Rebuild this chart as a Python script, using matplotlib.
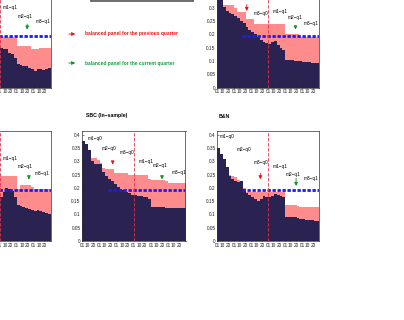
import matplotlib
matplotlib.use("Agg")
import matplotlib.pyplot as plt
from matplotlib.patches import Rectangle
import numpy as np

plt.rcParams['font.family'] = ['Liberation Sans Narrow', 'Liberation Sans', 'DejaVu Sans']

# day index, one value every 5 days over two quarters (6 months of ~30 days)
days = np.arange(0, 180, 5)
tick_days = [0, 9, 19, 30, 39, 49, 60, 69, 79, 90, 99, 109, 120, 129, 139, 150, 159, 169]
tick_labels = ['01', '10', '20'] * 6
y_ticks = [0, 0.05, 0.1, 0.15, 0.2, 0.25, 0.3, 0.35, 0.4]
y_tick_labels = ['0', '0.05', '0.1', '0.15', '0.2', '0.25', '0.3', '0.35', '0.4']
q_labels = ['m1\u2212q0', 'm2\u2212q0', 'm3\u2212q0', 'm1\u2212q1', 'm2\u2212q1', 'm3\u2212q1']

# top left panel (cut off, only the second quarter is in view)
a_dark = [0.360, 0.340, 0.320, 0.300, 0.290, 0.280, 0.270, 0.260, 0.250, 0.240, 0.230, 0.220,
          0.210, 0.200, 0.190, 0.180, 0.170, 0.160, 0.150, 0.145, 0.144, 0.130, 0.125, 0.110,
          0.090, 0.085, 0.082, 0.080, 0.075, 0.070, 0.064, 0.068, 0.069, 0.067, 0.070, 0.073]
a_pink = [0.360, 0.345, 0.330, 0.320, 0.310, 0.300, 0.290, 0.280, 0.270, 0.260, 0.250, 0.240,
          0.230, 0.220, 0.210, 0.200, 0.195, 0.190, 0.190, 0.190, 0.190, 0.190, 0.190, 0.188,
          0.156, 0.156, 0.156, 0.156, 0.156, 0.146, 0.144, 0.144, 0.150, 0.150, 0.150, 0.150]
a_blue = (43, 0.195)
a_lab_x = [95, 121, 153]
a_lab_y = [0.30, 0.268, 0.25]
a_red = None
a_green = (138.5, 0.25, 0.208)

# top right panel
b_dark = [0.370, 0.340, 0.305, 0.290, 0.280, 0.276, 0.270, 0.262, 0.250, 0.242, 0.230, 0.218,
          0.210, 0.202, 0.190, 0.180, 0.172, 0.168, 0.163, 0.170, 0.176, 0.160, 0.148, 0.142,
          0.105, 0.104, 0.102, 0.100, 0.099, 0.099, 0.098, 0.096, 0.095, 0.094, 0.093, 0.092]
b_pink = [0.370, 0.340, 0.312, 0.312, 0.310, 0.310, 0.300, 0.285, 0.285, 0.285, 0.260, 0.260,
          0.260, 0.240, 0.240, 0.240, 0.240, 0.240, 0.240, 0.240, 0.240, 0.240, 0.240, 0.240,
          0.200, 0.200, 0.200, 0.200, 0.200, 0.190, 0.190, 0.190, 0.190, 0.190, 0.190, 0.190]
b_blue = (43, 0.195)
b_lab_x = [65, 98, 125, 153]
b_lab_y = [0.278, 0.285, 0.263, 0.24]
b_red = (52, 0.323, 0.278)
b_green = (138, 0.244, 0.208)

# bottom left panel (cut off, only the second quarter is in view)
c_dark = [0.380, 0.350, 0.320, 0.300, 0.280, 0.265, 0.250, 0.240, 0.230, 0.220, 0.210, 0.200,
          0.195, 0.190, 0.185, 0.180, 0.175, 0.170, 0.165, 0.185, 0.200, 0.198, 0.190, 0.165,
          0.135, 0.132, 0.128, 0.125, 0.120, 0.116, 0.114, 0.117, 0.112, 0.108, 0.104, 0.100]
c_pink = [0.380, 0.360, 0.340, 0.320, 0.300, 0.290, 0.280, 0.270, 0.265, 0.260, 0.255, 0.250,
          0.250, 0.250, 0.250, 0.250, 0.248, 0.248, 0.247, 0.247, 0.247, 0.247, 0.247, 0.247,
          0.196, 0.210, 0.210, 0.210, 0.210, 0.205, 0.195, 0.195, 0.195, 0.195, 0.195, 0.195]
c_blue = (43, 0.193)
c_lab_x = [96, 122.5, 152]
c_lab_y = [0.31, 0.28, 0.254]
c_red = None
c_green = (141.5, 0.247, 0.222)

# SBC (In-sample)
d_dark = [0.378, 0.365, 0.345, 0.300, 0.290, 0.290, 0.290, 0.260, 0.245, 0.235, 0.225, 0.215,
          0.205, 0.198, 0.192, 0.186, 0.180, 0.175, 0.172, 0.170, 0.168, 0.166, 0.165, 0.160,
          0.128, 0.128, 0.128, 0.128, 0.128, 0.126, 0.125, 0.124, 0.124, 0.124, 0.124, 0.124]
d_pink = [0.378, 0.365, 0.345, 0.312, 0.312, 0.305, 0.295, 0.275, 0.273, 0.273, 0.273, 0.255,
          0.255, 0.255, 0.255, 0.255, 0.250, 0.248, 0.248, 0.248, 0.248, 0.248, 0.248, 0.235,
          0.230, 0.230, 0.230, 0.230, 0.230, 0.225, 0.218, 0.217, 0.217, 0.217, 0.217, 0.217]
d_blue = (45.5, 0.192)
d_lab_x = [10, 33, 65, 98, 123, 155]
d_lab_y = [0.385, 0.35, 0.333, 0.30, 0.286, 0.26]
d_red = (53, 0.305, 0.278)
d_green = (139, 0.254, 0.222)

# B&N
e_dark = [0.350, 0.330, 0.310, 0.280, 0.245, 0.235, 0.228, 0.222, 0.225, 0.195, 0.182, 0.172,
          0.165, 0.158, 0.150, 0.158, 0.168, 0.165, 0.165, 0.170, 0.178, 0.175, 0.170, 0.165,
          0.092, 0.091, 0.091, 0.090, 0.087, 0.083, 0.082, 0.080, 0.079, 0.078, 0.077, 0.076]
e_pink = [0.350, 0.330, 0.310, 0.280, 0.250, 0.247, 0.240, 0.232, 0.228, 0.200, 0.186, 0.186,
          0.186, 0.186, 0.186, 0.186, 0.186, 0.186, 0.186, 0.186, 0.186, 0.186, 0.186, 0.186,
          0.136, 0.136, 0.135, 0.134, 0.132, 0.130, 0.128, 0.127, 0.127, 0.127, 0.127, 0.127]
e_blue = (43, 0.193)
e_lab_x = [4, 34, 64, 98, 121, 153]
e_lab_y = [0.393, 0.345, 0.298, 0.282, 0.251, 0.235]
e_red = (76, 0.266, 0.222)
e_green = (139, 0.247, 0.197)

NAVY = '#2a2250'
PINK = '#ff8c8c'
W, H = 404, 320


def rect(l, t, r, b):
    return [l / W, 1 - b / H, (r - l) / W, (b - t) / H]


def draw_panel(ax, dark, pink, blue, labels, lab_x, lab_y, red, green, cut=False, top=False):
    x = np.append(days, 180)
    ax.fill_between(x, 0, np.append(pink, pink[-1]), step='post', color=PINK, lw=0)
    ax.fill_between(x, 0, np.append(dark, dark[-1]), step='post', color=NAVY, lw=0)
    ax.hlines(blue[1], blue[0], 180, colors='#1a1aff', linestyles=(0, (1.2, 0.6)), lw=2)
    ax.axvline(90, color='#e0304a', lw=0.6, dashes=(4, 2))
    for t, lx, ly in zip(labels, lab_x, lab_y):
        ax.text(lx, ly, t, fontsize=3.4, va='center', ha='left', color='black')
    if red is not None:
        ax.annotate('', xy=(red[0], red[2]), xytext=(red[0], red[1]),
                    arrowprops=dict(arrowstyle='-|>', color='#f01010', lw=0.6, mutation_scale=5))
    ax.annotate('', xy=(green[0], green[2]), xytext=(green[0], green[1]),
                arrowprops=dict(arrowstyle='-|>', color='#109020', lw=0.6, mutation_scale=5))
    ax.set_xlim(0, 180)
    ax.set_ylim(0, 0.415)
    ax.set_xticks(tick_days)
    # parts of the cut-off panels lie outside the picture
    ax.set_xticklabels([l if (not cut or d >= 90) else '' for d, l in zip(tick_days, tick_labels)])
    ax.set_yticks(y_ticks)
    ax.set_yticklabels([l if not (cut or (top and v > 0.3)) else ''
                        for v, l in zip(y_ticks, y_tick_labels)])
    ax.tick_params(direction='in', length=1.5, width=0.4, labelsize=3.4, pad=1.2, colors='#222222')
    for s in ax.spines.values():
        s.set_linewidth(0.5)
        s.set_color('#333333')


fig = plt.figure(figsize=(4.04, 3.2), dpi=100)

# legend / overlay area
ov = fig.add_axes([0, 0, 1, 1])
ov.set_xlim(0, W)
ov.set_ylim(H, 0)
ov.axis('off')
ov.add_patch(Rectangle((91, -20), 102, 20.8, fill=False, ec='#555555', lw=1.2))
ov.annotate('', xy=(78, 34), xytext=(66, 34),
            arrowprops=dict(arrowstyle='-|>', color='#f01010', lw=0.6, mutation_scale=5))
ov.text(85, 34, 'balanced panel for the previous quarter', color='#f01010', fontsize=3.55,
        fontweight='bold', va='center', ha='left')
ov.annotate('', xy=(78, 63), xytext=(66, 63),
            arrowprops=dict(arrowstyle='-|>', color='#109020', lw=0.6, mutation_scale=5))
ov.text(85, 63, 'balanced panel for the current quarter', color='#10a040', fontsize=3.55,
        fontweight='bold', va='center', ha='left')
ov.text(86, 116, 'SBC (In\u2212sample)', fontsize=3.7, fontweight='bold', va='center', ha='left')
ov.text(219, 116, 'B&N', fontsize=3.7, fontweight='bold', va='center', ha='left')

ax_a = fig.add_axes(rect(-51.3, -22.5, 50.7, 87.5))
draw_panel(ax_a, a_dark, a_pink, a_blue, q_labels[3:], a_lab_x, a_lab_y, a_red, a_green,
           cut=True, top=True)
ax_b = fig.add_axes(rect(217.3, -22.5, 319.3, 87.5))
draw_panel(ax_b, b_dark, b_pink, b_blue, q_labels[2:], b_lab_x, b_lab_y, b_red, b_green, top=True)
ax_c = fig.add_axes(rect(-51.3, 131, 50.7, 241))
draw_panel(ax_c, c_dark, c_pink, c_blue, q_labels[3:], c_lab_x, c_lab_y, c_red, c_green, cut=True)
ax_d = fig.add_axes(rect(82.3, 131, 185.5, 241))
draw_panel(ax_d, d_dark, d_pink, d_blue, q_labels, d_lab_x, d_lab_y, d_red, d_green)
ax_e = fig.add_axes(rect(217.3, 131, 319.3, 241))
draw_panel(ax_e, e_dark, e_pink, e_blue, q_labels, e_lab_x, e_lab_y, e_red, e_green)

fig.savefig('out.png', dpi=100)
